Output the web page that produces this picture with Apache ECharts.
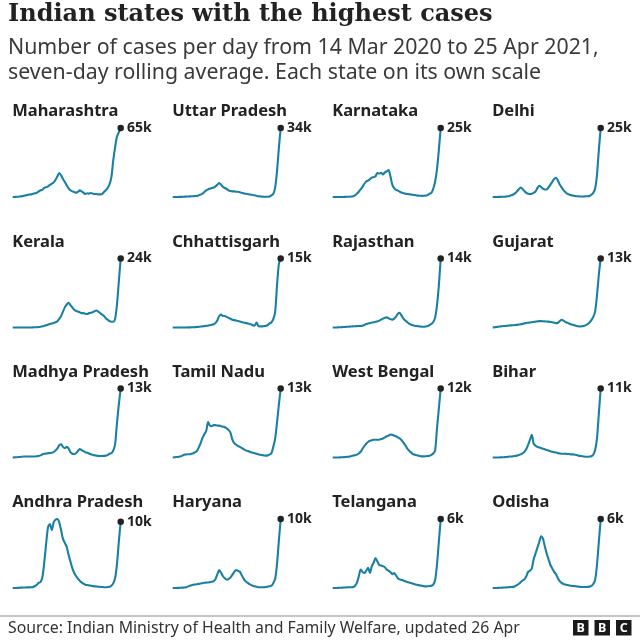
<!DOCTYPE html>
<html>
<head>
<meta charset="utf-8">
<script src="https://cdn.jsdelivr.net/npm/echarts@6/dist/echarts.min.js"></script>
<style>
html,body{margin:0;padding:0;background:#fff;}
#chart{width:640px;height:640px;}
</style>
</head>
<body>
<div id="chart"></div>
<script>
// ---- DATA (weekly points, 14 Mar 2020 .. 25 Apr 2021, 7-day average cases per day) ----
const stateNames = ["Maharashtra","Uttar Pradesh","Karnataka","Delhi",
  "Kerala","Chhattisgarh","Rajasthan","Gujarat",
  "Madhya Pradesh","Tamil Nadu","West Bengal","Bihar",
  "Andhra Pradesh","Haryana","Telangana","Odisha"];

const maharashtra = [0,50,200,300,500,800,1200,1500,2000,2400,
  2500,3000,3500,4000,5300,6300,7000,8500,9300,10000,
  11500,12500,13800,16300,19500,22600,20400,17000,14100,11000,
  8200,6300,5300,4700,4100,4700,6300,5300,4100,2800,
  3500,3200,3800,3200,2800,2800,2500,2500,2800,4700,
  6300,8500,12000,18800,34400,47000,57000,61000,65000];
const uttarPradesh = [0,0,10,30,50,80,150,200,250,300,
  350,400,500,550,820,1150,1640,2460,3280,3770,
  4100,4430,4600,5250,6070,6900,6070,4920,4430,3940,
  3280,2950,2790,2790,2620,2620,2300,2130,1800,1640,
  1480,1310,1150,980,820,660,400,300,200,150,
  120,150,300,800,1500,4500,12500,24000,34000];
const karnataka = [0,0,5,10,15,20,30,50,80,100,
  150,300,600,1200,1900,2800,3700,4800,5600,5900,
  6500,7000,7200,7500,8700,8500,8800,8200,8900,9300,
  9800,7500,4500,3200,2600,2300,1900,1600,1400,1200,
  1100,1000,900,800,700,600,500,450,400,450,
  500,700,1200,1500,3000,5500,10000,17000,25000];
const delhi = [0,10,20,30,50,80,100,150,250,400,
  600,900,1300,2000,2800,3400,2900,2200,1500,1200,
  1100,1200,1500,2000,3200,4100,3600,3000,2700,2700,
  3500,4500,5500,6500,7000,6000,4500,3500,2500,1800,
  1200,900,700,500,400,300,250,200,180,200,
  250,300,400,800,1500,3000,8000,17000,25000];
const kerala = [0,0,0,0,0,0,5,10,20,20,
  20,50,80,100,150,250,400,600,800,1000,
  1200,1400,1600,1800,2200,3000,4000,5500,7000,8000,
  8600,7800,7000,6200,5800,5600,5300,5000,5000,4800,
  4700,5000,5100,5300,5700,5900,5500,5000,4500,4000,
  3200,2700,2200,2000,2000,3000,8000,16000,24000];
const chhattisgarh = [0,0,0,0,0,0,5,10,20,30,
  40,50,80,100,150,200,250,300,350,400,
  500,600,700,1000,1600,2500,2800,2500,2500,2300,
  2100,1900,1700,1600,1500,1400,1300,1200,1100,1000,
  900,800,700,500,400,1100,300,250,250,300,
  350,500,900,1100,1800,3300,9000,13800,15000];
const rajasthan = [0,5,10,30,50,80,100,120,150,180,
  200,230,260,280,300,320,350,500,700,800,
  900,1000,1050,1150,1250,1400,1600,1800,2000,2050,
  1900,1700,1600,1800,2200,2800,3000,2400,1800,1400,
  1100,800,600,450,350,300,250,200,150,150,
  200,300,500,700,1100,2000,4500,8500,14000];
const gujarat = [0,50,100,150,200,250,280,300,330,370,
  400,430,460,500,550,600,680,780,850,900,
  950,1000,1050,1100,1150,1200,1200,1180,1150,1120,
  1100,1050,1000,900,820,900,1200,1450,1300,1050,
  900,750,600,500,400,300,220,190,250,300,
  450,650,950,1400,2000,3000,6000,10000,13000];
const madhyaPradesh = [0,20,50,80,100,150,180,200,200,200,
  180,180,200,250,300,400,600,700,750,800,
  850,900,1000,1300,1700,2300,2500,2000,1750,2000,
  1700,1000,700,650,800,1200,1600,1400,1200,1000,
  900,750,600,500,400,350,300,280,280,300,
  350,450,700,800,1300,2500,6500,10000,13000];
const tamilNadu = [0,50,80,100,200,300,500,550,600,600,
  700,800,1000,1200,1900,2700,3700,4400,5000,6700,
  6000,5900,6100,6100,6000,6000,5900,5800,5700,5500,
  5200,4700,3400,2700,2400,2200,2000,1800,1600,1400,
  1250,1150,1000,900,800,700,600,500,450,400,
  350,400,550,800,2000,3500,6500,9900,13000];
const westBengal = [0,0,5,10,20,40,60,80,120,150,
  250,350,400,500,700,1000,1500,2000,2400,2700,
  2900,3000,3100,3100,3100,3100,3200,3300,3500,3700,
  3800,4000,3950,3800,3700,3500,3300,3000,2600,2100,
  1600,1200,900,600,500,400,300,250,200,200,
  220,250,300,450,700,1200,5000,8500,12000];
const bihar = [0,0,5,10,15,30,50,80,100,150,
  150,200,250,300,400,500,650,900,1300,2000,
  2800,3600,2200,1900,1700,1600,1500,1400,1300,1200,
  1100,1000,900,850,800,700,650,600,600,600,
  550,550,500,500,450,400,300,250,200,150,
  120,120,150,200,450,1200,3000,7000,11000];
const andhraPradesh = [0,0,10,20,50,60,70,80,100,100,
  120,150,300,500,800,900,1700,4000,6800,9200,
  9650,8700,9900,10300,10400,9900,8700,7400,6800,6200,
  5000,4000,3000,2300,1800,1400,1100,850,650,500,
  450,400,350,300,250,220,200,180,150,120,
  120,150,200,350,700,1500,3600,7000,10000];
const haryana = [0,5,10,20,30,50,60,80,200,300,
  400,480,500,550,600,650,700,750,780,800,
  850,900,1000,1300,2000,2600,2200,1700,1400,1200,
  1300,1500,1900,2300,2600,2500,2400,1900,1400,1000,
  800,600,450,330,250,180,120,100,100,110,
  150,200,250,330,700,1300,3400,6800,10000];
const telangana = [0,0,5,10,20,30,40,50,60,60,
  60,80,200,450,1000,1600,1400,1300,1500,1750,
  1300,1900,2200,2600,2300,2000,1950,1900,1800,1600,
  1500,1400,1200,1300,1100,850,750,700,650,580,
  530,480,430,380,330,290,250,220,190,160,
  145,150,170,200,290,700,2000,4000,6000];
const odisha = [0,0,5,10,20,30,40,50,60,80,
  90,100,150,250,350,500,650,750,1000,1400,
  1500,1700,2500,3000,3500,4000,4500,4300,3600,3000,
  2500,2000,1700,1400,1200,850,600,450,350,300,
  260,230,200,180,160,140,120,100,90,90,
  90,100,120,180,350,700,2000,4000,6000];

const stateValues = [maharashtra, uttarPradesh, karnataka, delhi,
  kerala, chhattisgarh, rajasthan, gujarat,
  madhyaPradesh, tamilNadu, westBengal, bihar,
  andhraPradesh, haryana, telangana, odisha];

// weekly category labels
const weeks = [];
(function(){
  const start = new Date(Date.UTC(2020, 2, 14));
  for (let i = 0; i < maharashtra.length; i++) {
    const d = new Date(start.getTime() + i * 7 * 86400000);
    weeks.push(d.toISOString().slice(0, 10));
  }
  weeks[weeks.length - 1] = '2021-04-25';
})();

const titleText = 'Indian states with the highest cases';
const subtitleLines = ['Number of cases per day from 14 Mar 2020 to 25 Apr 2021,',
  'seven-day rolling average. Each state on its own scale'];
const sourceText = 'Source: Indian Ministry of Health and Family Welfare, updated 26 Apr';

// ---- LAYOUT ----
const colLeft = [12.7, 172.7, 332.7, 492.7];
const rowTop = [128, 258.5, 388.5, 519];
const plotW = 108, plotH = 69;
const LINE = '#1a80a3', INK = '#222222';
const SANS = '"Noto Sans", "Open Sans", sans-serif';

const grids = [], xAxes = [], yAxes = [], series = [];
const graphics = [];

graphics.push({type:'text', x:8, y:15, style:{text:titleText, font:'bold 24px "DejaVu Serif", serif', fill:INK, textVerticalAlign:'middle', verticalAlign:'middle'}});
subtitleLines.forEach((t, i) => {
  graphics.push({type:'text', x:8, y:48 + i*25, style:{text:t, font:'21.3px ' + SANS, fill:'#3a3a3a', textVerticalAlign:'middle', verticalAlign:'middle'}});
});

stateNames.forEach((name, k) => {
  const r = Math.floor(k / 4), c = k % 4;
  const vals = stateValues[k];
  grids.push({left: colLeft[c], top: rowTop[r], width: plotW, height: plotH, containLabel:false});
  xAxes.push({type:'category', gridIndex:k, data:weeks, boundaryGap:false, show:false});
  yAxes.push({type:'value', gridIndex:k, min:0, max:'dataMax', show:false, splitLine:{show:false}});
  const last = vals.length - 1;
  const data = vals.map((v, i) => i === last ? {
    value: v, symbol:'circle', symbolSize:6.5, itemStyle:{color:INK},
    label:{show:true, position:'right', distance:3, formatter: Math.round(v/1000) + 'k',
      color:INK, fontWeight:'bold', fontSize:14, fontFamily:SANS}
  } : v);
  series.push({
    type:'line', xAxisIndex:k, yAxisIndex:k, data:data,
    symbol:'none', showSymbol:true, showAllSymbol:true, clip:false,
    smooth:0.25, lineStyle:{color:LINE, width:2.1}, itemStyle:{color:LINE},
    silent:true, animation:false, z:2
  });
  graphics.push({type:'text', x: colLeft[c] - 0.5, y: rowTop[r] - 16.5,
    style:{text:name, font:'bold 16.5px ' + SANS, fill:INK, textVerticalAlign:'middle', verticalAlign:'middle'}});
});

// footer
graphics.push({type:'line', shape:{x1:0, y1:616, x2:640, y2:616}, style:{stroke:'#8c8c8c', lineWidth:1.2}});
graphics.push({type:'text', x:8, y:628, style:{text:sourceText, font:'15.8px ' + SANS, fill:'#333333', textVerticalAlign:'middle', verticalAlign:'middle'}});
['B','B','C'].forEach((ch, i) => {
  const bx = 573 + i * 21.5;
  graphics.push({type:'rect', shape:{x:bx, y:620, width:15.5, height:15.5}, style:{fill:'#1a1a1a'}});
  graphics.push({type:'text', x:bx + 7.75, y:628, style:{text:ch, font:'bold 12.5px ' + SANS, fill:'#ffffff', textAlign:'center', align:'center', textVerticalAlign:'middle', verticalAlign:'middle'}});
});

const chart = echarts.init(document.getElementById('chart'), null, {renderer:'canvas'});
chart.setOption({
  animation:false,
  backgroundColor:'#ffffff',
  grid: grids, xAxis: xAxes, yAxis: yAxes, series: series,
  graphic: graphics
});
</script>
</body>
</html>
